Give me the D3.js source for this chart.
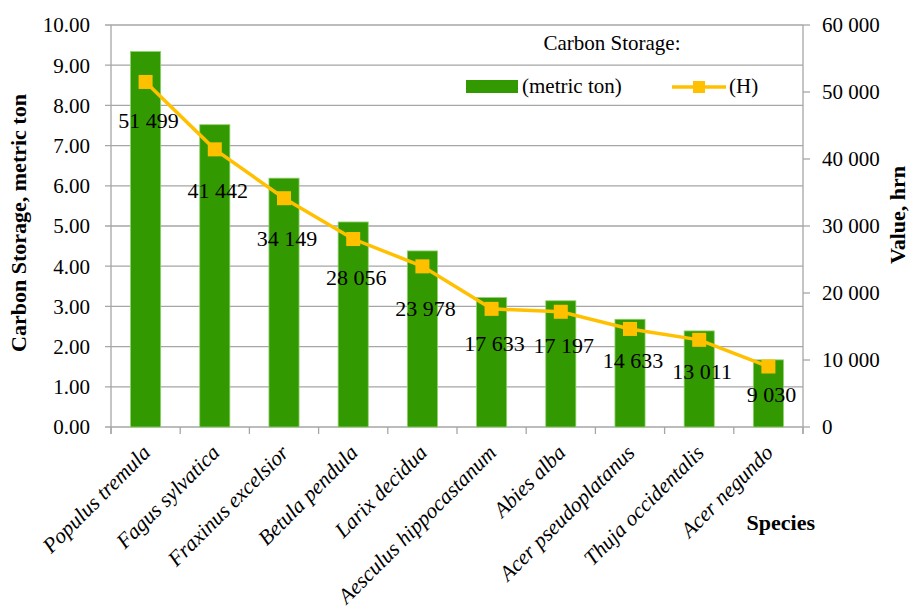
<!DOCTYPE html>
<html lang="en">
<head>
<meta charset="utf-8">
<title>Carbon Storage</title>
<script src="https://d3js.org/d3.v7.min.js"></script>
<style>
  body { margin: 0; background: #fff; }
</style>
</head>
<body>
<div id="chart"></div>
<script>
// data
var species = ["Populus tremula", "Fagus sylvatica", "Fraxinus excelsior", "Betula pendula",
  "Larix decidua", "Aesculus hippocastanum", "Abies alba", "Acer pseudoplatanus",
  "Thuja occidentalis", "Acer negundo"];
var storageTon = [9.34, 7.52, 6.19, 5.10, 4.38, 3.22, 3.14, 2.68, 2.39, 1.67];
var valueH = [51499, 41442, 34149, 28056, 23978, 17633, 17197, 14633, 13011, 9030];
var leftTicks = [0, 1, 2, 3, 4, 5, 6, 7, 8, 9, 10];
var rightTicks = [0, 10000, 20000, 30000, 40000, 50000, 60000];

// how far below each marker its label sits (layout, not data)
var labelDy = [38, 41, 40, 38, 42, 34, 34, 31, 31, 28];

var W = 917, H = 615;
var margin = {top: 25, right: 114, bottom: 188, left: 111};
var width = W - margin.left - margin.right,
    height = H - margin.top - margin.bottom;

var green = "#339900", gold = "#ffc000", grid = "#a6a6a6";
var serif = "'Liberation Serif', 'DejaVu Serif', 'Times New Roman', serif";

var svg = d3.select("#chart").append("svg")
    .attr("width", W).attr("height", H)
    .attr("font-family", serif)
    .style("font-family", serif);
var g = svg.append("g")
    .attr("transform", "translate(" + margin.left + "," + margin.top + ")");

var x = d3.scaleBand().domain(species).range([0, width]).paddingInner(0.565).paddingOuter(0.2825);
var xb = d3.scaleBand().domain(species).range([0, width]);
var yL = d3.scaleLinear().domain([0, 10]).range([height, 0]);
var yR = d3.scaleLinear().domain([0, 60000]).range([height, 0]);

var spaced = d3.formatLocale({decimal: ".", thousands: " ", grouping: [3], currency: ["", ""]}).format(",d");

// gridlines
g.append("g").selectAll("line").data(leftTicks).enter().append("line")
  .attr("x1", -6).attr("x2", width)
  .attr("y1", function(d) { return yL(d); }).attr("y2", function(d) { return yL(d); })
  .attr("stroke", grid).attr("stroke-width", 1.3);

// left axis
g.append("line").attr("x1", 0).attr("x2", 0).attr("y1", 0).attr("y2", height + 7)
  .attr("stroke", grid).attr("stroke-width", 1.3);
g.append("g").selectAll("text").data(leftTicks).enter().append("text")
  .attr("x", -21).attr("y", function(d) { return yL(d); })
  .attr("dy", "0.35em").attr("text-anchor", "end")
  .style("font-size", "21px")
  .text(function(d) { return d3.format(".2f")(d); });

// right axis
g.append("line").attr("x1", width).attr("x2", width).attr("y1", 0).attr("y2", height + 7)
  .attr("stroke", grid).attr("stroke-width", 1.3);
g.append("g").selectAll("line").data(rightTicks).enter().append("line")
  .attr("x1", width).attr("x2", width + 7)
  .attr("y1", function(d) { return yR(d); }).attr("y2", function(d) { return yR(d); })
  .attr("stroke", grid).attr("stroke-width", 1.3);
g.append("g").selectAll("text").data(rightTicks).enter().append("text")
  .attr("x", width + 19).attr("y", function(d) { return yR(d); })
  .attr("dy", "0.35em")
  .style("font-size", "21px")
  .text(function(d) { return spaced(d); });

// x axis ticks at category boundaries
var bounds = species.map(function(d) { return xb(d); }).concat([width]);
g.append("g").selectAll("line").data(bounds).enter().append("line")
  .attr("x1", function(d) { return d; }).attr("x2", function(d) { return d; })
  .attr("y1", height).attr("y2", height + 7)
  .attr("stroke", grid).attr("stroke-width", 1.3);

// bars
g.append("g").selectAll("rect").data(species).enter().append("rect")
  .attr("x", function(d) { return x(d); })
  .attr("y", function(d, i) { return yL(storageTon[i]); })
  .attr("width", x.bandwidth())
  .attr("height", function(d, i) { return height - yL(storageTon[i]); })
  .attr("fill", green)
  .attr("stroke", "#8fd16a").attr("stroke-width", 0.8);

// line + markers
var cx = function(d, i) { return xb(species[i]) + xb.bandwidth() / 2; };
var line = d3.line().x(cx).y(function(d) { return yR(d); });
g.append("path").datum(valueH)
  .attr("d", line).attr("fill", "none")
  .attr("stroke", gold).attr("stroke-width", 3.5);
g.append("g").selectAll("rect").data(valueH).enter().append("rect")
  .attr("x", function(d, i) { return cx(d, i) - 7; })
  .attr("y", function(d) { return yR(d) - 7; })
  .attr("width", 14).attr("height", 14)
  .attr("fill", gold);

// data labels
g.append("g").selectAll("text").data(valueH).enter().append("text")
  .attr("x", function(d, i) { return cx(d, i) + 3; })
  .attr("y", function(d, i) { return yR(d) + labelDy[i]; })
  .attr("dy", "0.35em").attr("text-anchor", "middle")
  .style("font-size", "22px")
  .text(function(d) { return spaced(d); });

// category labels
g.append("g").selectAll("text").data(species).enter().append("text")
  .attr("transform", function(d) {
    return "translate(" + (xb(d) + xb.bandwidth() / 2 + 6) + "," + (height + 27) + ") rotate(-45)";
  })
  .attr("text-anchor", "end")
  .style("font-size", "21.5px").style("font-style", "italic")
  .text(function(d) { return d; });

// axis titles
svg.append("text")
  .attr("transform", "translate(26," + (margin.top + height / 2 - 3) + ") rotate(-90)")
  .attr("text-anchor", "middle")
  .style("font-size", "22px").style("font-weight", "bold")
  .text("Carbon Storage, metric ton");
svg.append("text")
  .attr("transform", "translate(905,215) rotate(-90)")
  .attr("text-anchor", "middle")
  .style("font-size", "22px").style("font-weight", "bold")
  .text("Value, hrn");
svg.append("text")
  .attr("x", 815).attr("y", 530).attr("text-anchor", "end")
  .style("font-size", "22px").style("font-weight", "bold")
  .text("Species");

// legend
var lg = svg.append("g");
lg.append("text").attr("x", 612).attr("y", 50).attr("text-anchor", "middle")
  .style("font-size", "21px").text("Carbon Storage:");
lg.append("rect").attr("x", 466).attr("y", 80).attr("width", 52).attr("height", 13).attr("fill", green);
lg.append("text").attr("x", 522).attr("y", 93).style("font-size", "21px").text("(metric ton)");
lg.append("line").attr("x1", 672).attr("x2", 726).attr("y1", 87).attr("y2", 87)
  .attr("stroke", gold).attr("stroke-width", 3.5);
lg.append("rect").attr("x", 693).attr("y", 81).attr("width", 12).attr("height", 12).attr("fill", gold);
lg.append("text").attr("x", 729).attr("y", 93).style("font-size", "21px").text("(H)");
</script>
</body>
</html>
